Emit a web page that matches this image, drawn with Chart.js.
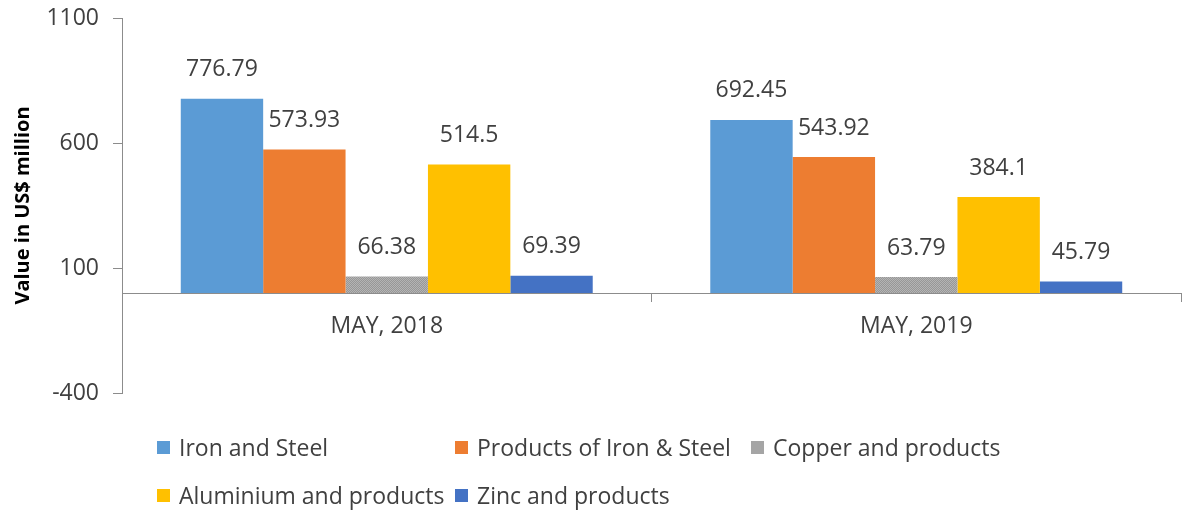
<!DOCTYPE html>
<html>
<head>
<meta charset="utf-8">
<script src="https://cdn.jsdelivr.net/npm/chart.js@4/dist/chart.umd.min.js"></script>
<style>
  html, body { margin: 0; padding: 0; background: #fff; }
  #wrap { position: relative; width: 1183px; height: 513px; }
  #legend {
    position: absolute; left: 157px; top: 432px;
    display: grid; grid-template-columns: 298px 296px auto; row-gap: 18px;
    font-family: "Open Sans", sans-serif; font-size: 23px; color: #404040;
  }
  #legend .item { display: flex; align-items: center; height: 30px; white-space: nowrap; }
  #legend .box { width: 13px; height: 13px; margin-right: 9px; flex: none; }
</style>
</head>
<body>
<div id="wrap">
  <canvas id="chart" width="1183" height="513"></canvas>
  <div id="legend"></div>
</div>
<script>
/* ─── data ─────────────────────────────────────────── */
const CATEGORIES = ['MAY, 2018', 'MAY, 2019'];
const SERIES_NAMES = ['Iron and Steel', 'Products of Iron & Steel', 'Copper and products',
                      'Aluminium and products', 'Zinc and products'];
const IRON_STEEL   = [776.79, 692.45];
const PRODUCTS_IS  = [573.93, 543.92];
const COPPER       = [66.38, 63.79];
const ALUMINIUM    = [514.5, 384.1];
const ZINC         = [69.39, 45.79];
const Y_TICKS      = [-400, 100, 600, 1100];

/* ─── styling ──────────────────────────────────────── */
const FONT = '"Open Sans", sans-serif';
const TEXT = '#404040';
const AXIS = '#8c8c8c';

function hatch() {
  const c = document.createElement('canvas');
  c.width = 4; c.height = 4;
  const g = c.getContext('2d');
  g.fillStyle = '#b4b4b4';
  g.fillRect(0, 0, 4, 4);
  g.fillStyle = '#979797';
  for (let i = 0; i < 4; i++) g.fillRect(i, (i + 1) % 4, 1, 1);
  for (let i = 0; i < 4; i++) g.fillRect(i, (i + 3) % 4, 1, 1);
  return g.createPattern(c, 'repeat');
}

const COLORS = ['#5B9BD5', '#ED7D31', hatch(), '#FFC000', '#4472C4'];
const SWATCH = ['#5B9BD5', '#ED7D31', '#A5A5A5', '#FFC000', '#4472C4'];
const VALUES = [IRON_STEEL, PRODUCTS_IS, COPPER, ALUMINIUM, ZINC];

const datasets = SERIES_NAMES.map((name, i) => ({
  label: name,
  data: VALUES[i],
  backgroundColor: COLORS[i],
  borderWidth: 0,
  categoryPercentage: 0.778,
  barPercentage: 1.0,
}));

/* value labels above the bars */
const valueLabels = {
  id: 'valueLabels',
  afterDatasetsDraw(chart) {
    const { ctx } = chart;
    ctx.save();
    ctx.font = `23px ${FONT}`;
    ctx.fillStyle = TEXT;
    ctx.textAlign = 'center';
    ctx.textBaseline = 'middle';
    chart.data.datasets.forEach((ds, i) => {
      chart.getDatasetMeta(i).data.forEach((bar, j) => {
        ctx.fillText(String(ds.data[j]), bar.x, bar.y - 29);
      });
    });
    ctx.restore();
  },
};

// keep tick-label overhang from pushing the plot area around
function noPad(s) {
  s.paddingTop = 0; s.paddingBottom = 0; s.paddingLeft = 0; s.paddingRight = 0;
}

new Chart(document.getElementById('chart'), {
  type: 'bar',
  data: { labels: CATEGORIES, datasets },
  plugins: [valueLabels],
  options: {
    responsive: false,
    animation: false,
    layout: { padding: { top: 18, bottom: 120, left: 0, right: 2 } },
    plugins: { legend: { display: false }, tooltip: { enabled: false } },
    scales: {
      x: {
        position: { y: 0 },
        afterFit: noPad,
        grid: {
          offset: true,
          drawOnChartArea: false,
          tickLength: 8,
          color: ctx => (ctx.index === CATEGORIES.length ? 'transparent' : AXIS),
        },
        border: { color: AXIS },
        ticks: { font: { family: FONT, size: 23 }, color: TEXT, padding: 12 },
      },
      y: {
        min: -400,
        max: 1100,
        afterBuildTicks: s => { s.ticks = Y_TICKS.map(v => ({ value: v })); },
        afterFit: s => { s.width = 122; noPad(s); },
        grid: { drawOnChartArea: false, tickLength: 9, color: AXIS },
        border: { color: AXIS },
        ticks: { font: { family: FONT, size: 23 }, color: TEXT, padding: 14, callback: v => String(v) },
        title: {
          display: true,
          text: 'Value in US$ million',
          font: { family: FONT, size: 20, weight: 'bold' },
          color: '#000',
          padding: { top: 11, bottom: 0 },
        },
      },
    },
  },
});

/* legend laid out like the original two-row legend */
const legend = document.getElementById('legend');
SERIES_NAMES.forEach((name, i) => {
  const item = document.createElement('div');
  item.className = 'item';
  item.innerHTML = `<span class="box" style="background:${SWATCH[i]}"></span><span></span>`;
  item.lastChild.textContent = name;
  legend.appendChild(item);
});
</script>
</body>
</html>
